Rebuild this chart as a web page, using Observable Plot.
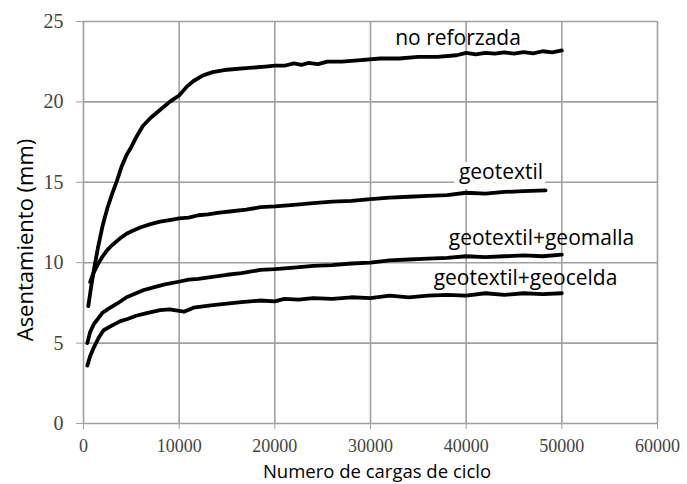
<!DOCTYPE html>
<html><head><meta charset="utf-8">
<script src="https://cdn.jsdelivr.net/npm/d3@7"></script>
<script src="https://cdn.jsdelivr.net/npm/@observablehq/plot@0.6"></script>
<style>body{margin:0;background:#fff}#chart{width:687px;height:484px}</style>
</head><body><div id="chart"></div>
<script>
const xTicks = [0, 10000, 20000, 30000, 40000, 50000, 60000];
const yTicks = [0, 5, 10, 15, 20, 25];
const xTitle = "Numero de cargas de ciclo";
const yTitle = "Asentamiento (mm)";

const noReforzada = [[500,7.3],[800,8.5],[1100,9.6],[1500,10.9],[2000,12.3],[2500,13.4],[3000,14.3],[3500,15.1],[4000,16.0],[4500,16.7],[5000,17.2],[5600,17.9],[6200,18.5],[7000,19.0],[7800,19.4],[8400,19.7],[9000,20.0],[9500,20.2],[10000,20.4],[10800,20.95],[11500,21.3],[12500,21.65],[13500,21.85],[15000,22.0],[17000,22.1],[19000,22.2],[20000,22.25],[21000,22.25],[22000,22.4],[22800,22.3],[23500,22.42],[24500,22.35],[25500,22.5],[27000,22.5],[29000,22.6],[31000,22.7],[33000,22.7],[35000,22.8],[37000,22.8],[39000,22.9],[40000,23.05],[41000,22.95],[42000,23.05],[43000,23.0],[44000,23.08],[45000,23.0],[46000,23.1],[47000,23.02],[48000,23.15],[49000,23.08],[50000,23.2]];
const geotextil = [[700,8.8],[1000,9.3],[1500,9.9],[2000,10.4],[2500,10.8],[3000,11.1],[3800,11.5],[4500,11.8],[5200,12.0],[6000,12.2],[7000,12.4],[8000,12.55],[9000,12.65],[10000,12.75],[11000,12.8],[12000,12.95],[13000,13.0],[14000,13.1],[15500,13.2],[17000,13.3],[18500,13.45],[20000,13.5],[22000,13.6],[24000,13.7],[26000,13.8],[28000,13.85],[30000,13.95],[32000,14.05],[34000,14.1],[36000,14.15],[38000,14.2],[40000,14.35],[42000,14.3],[44000,14.4],[46000,14.45],[48300,14.5]];
const geomalla = [[400,5.0],[700,5.7],[1100,6.2],[1500,6.5],[2000,6.9],[2800,7.2],[3500,7.45],[4500,7.85],[5500,8.1],[6300,8.3],[7500,8.5],[8500,8.65],[9800,8.8],[11000,8.95],[12000,9.0],[13300,9.1],[15000,9.25],[16500,9.35],[18500,9.55],[20000,9.6],[22000,9.7],[24000,9.8],[26000,9.85],[28000,9.95],[30000,10.0],[32000,10.15],[34000,10.2],[36000,10.25],[38000,10.3],[40000,10.4],[42000,10.35],[44000,10.4],[46000,10.45],[48000,10.4],[50000,10.5]];
const geocelda = [[400,3.6],[700,4.2],[1100,4.75],[1600,5.35],[2100,5.8],[3000,6.1],[3800,6.35],[4600,6.5],[5500,6.7],[6500,6.85],[8000,7.05],[9000,7.1],[10500,6.95],[11500,7.2],[13300,7.35],[15000,7.45],[16500,7.55],[18500,7.65],[20000,7.6],[21000,7.75],[22500,7.7],[24000,7.8],[26000,7.75],[28000,7.85],[30000,7.8],[32000,7.95],[34000,7.85],[36000,7.95],[38000,8.0],[40000,7.95],[42000,8.1],[44000,8.0],[46000,8.1],[48000,8.05],[50000,8.1]];

const seriesNames = ["no reforzada", "geotextil", "geotextil+geomalla", "geotextil+geocelda"];
const seriesData = [noReforzada, geotextil, geomalla, geocelda];
const labelX = [39150, 43640, 47870, 46200];
const labelY = [23.95, 15.6, 11.5, 9.03];

const rows = seriesNames.flatMap((s, i) => seriesData[i].map(([x, y]) => ({s, x, y})));
const labelRows = seriesNames.map((s, i) => ({s, x: labelX[i], y: labelY[i]}));

const plot = Plot.plot({
  width: 687, height: 484,
  marginLeft: 83, marginRight: 30, marginTop: 21, marginBottom: 61,
  style: {fontFamily: "'Liberation Serif', serif", fontSize: "20px", background: "#fff", overflow: "visible"},
  x: {domain: [0, 60000]},
  y: {domain: [0, 25]},
  marks: [
    Plot.gridX(xTicks, {stroke: "#a0a0a0", strokeOpacity: 1, strokeWidth: 1.6}),
    Plot.gridY(yTicks, {stroke: "#a0a0a0", strokeOpacity: 1, strokeWidth: 1.6}),
    Plot.axisX(xTicks, {tickSize: 6, tickPadding: 10, fontSize: 18, stroke: "#a0a0a0", fill: "#444", tickFormat: d => String(d), label: null}),
    Plot.axisY(yTicks, {tickSize: 7, tickPadding: 13, stroke: "#a0a0a0", fill: "#444", tickFormat: d => String(d), label: null}),
    Plot.text(labelRows.filter(d => d.s === "geotextil"), {x: "x", y: "y", text: "s", fontFamily: "'Open Sans', sans-serif", fontSize: 21, fill: "#fff", stroke: "#fff", strokeWidth: 10}),
    Plot.line(rows, {x: "x", y: "y", z: "s", stroke: "#000", strokeWidth: 3.8, strokeLinejoin: "round", strokeLinecap: "round"}),
    Plot.text(labelRows, {x: "x", y: "y", text: "s", fontFamily: "'Open Sans', sans-serif", fontSize: 21, fill: "#000"})
  ]
});

const sx = plot.scale("x"), sy = plot.scale("y");
const svg = d3.select(plot);
svg.append("text")
  .attr("x", sx.apply(30000) + 7).attr("y", 478)
  .attr("text-anchor", "middle")
  .attr("font-family", "'Open Sans', sans-serif").attr("font-size", 18.5).attr("fill", "#000")
  .text(xTitle);
svg.append("text")
  .attr("transform", `translate(33,${(sy.apply(0) + sy.apply(25)) / 2 + 18}) rotate(-90)`)
  .attr("text-anchor", "middle")
  .attr("font-family", "'Open Sans', sans-serif").attr("font-size", 22).attr("fill", "#000")
  .text(yTitle);

document.getElementById("chart").appendChild(plot);
</script>
</body></html>
